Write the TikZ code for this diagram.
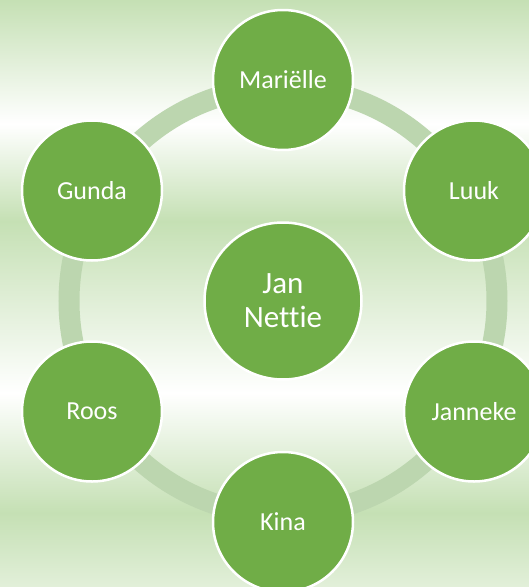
\documentclass[tikz,border=0pt]{standalone}
\usepackage{fontspec}
\setmainfont[Ligatures=NoCommon]{Carlito}
\usepackage[rgb]{xcolor}
\definecolor{leaf}{HTML}{70AD47}
\definecolor{mint}{HTML}{C5E0B4}
\definecolor{ringgreen}{HTML}{BCD6AF}
\usepackage{tikz}

\begin{document}
\begin{tikzpicture}[x=1pt, y=-1pt,
	default/.style={circle, fill=leaf, draw=white, line width=2.5pt, minimum size=140pt, inner sep=0pt, text=white, font=\fontsize{26}{30}\selectfont},
	core/.style={default, minimum size=157pt, align=center, font=\fontsize{31}{34}\selectfont}]
	\clip (0,0) rectangle (529,587);
	% banded background
	\shade[top color=mint, bottom color=white] (0,0) rectangle (529,124);
	\shade[top color=white, bottom color=mint] (0,124) rectangle (529,221);
	\shade[top color=mint, bottom color=white] (0,221) rectangle (529,393);
	\shade[top color=white, bottom color=mint] (0,393) rectangle (529,513);
	\shade[top color=mint, bottom color=mint!50] (0,513) rectangle (529,587);

	\node[core] at (283,301) (jn) {Jan\\Nettie};
	\draw[ringgreen, line width=21pt] (jn.center) circle (214pt);

	\node[default] at (283,80) (m) {Mariëlle};
	\node[default] at (474,190.5) (l) {Luuk};
	\node[default] at (474,411.5) (j) {Janneke};
	\node[default] at (283,522) (k) {Kina};
	\node[default] at (92,411.5) (r) {Roos};
	\node[default] at (92,190.5) (g) {Gunda};
\end{tikzpicture}
\end{document}
